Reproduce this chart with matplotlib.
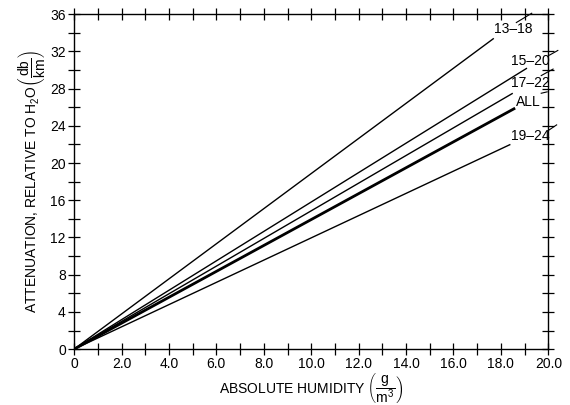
import matplotlib
matplotlib.use('Agg')
from matplotlib import pyplot as plt

plt.rcParams['font.family'] = ['Liberation Sans', 'DejaVu Sans']
plt.rcParams['mathtext.fontset'] = 'custom'
plt.rcParams['mathtext.rm'] = 'Liberation Sans'
plt.rcParams['mathtext.it'] = 'Liberation Sans'

# data: each curve is a straight line from the origin to its end point
groups = ['13–18', '15–20', '17–22', 'ALL', '19–24']
end_humidity = [17.7, 19.1, 18.5, 18.6, 18.4]
end_atten = [33.4, 30.2, 27.5, 25.9, 22.0]
line_widths = [1.0, 1.0, 1.0, 2.0, 1.0]

# label text position and leader line (data coords)
label_xy = [(18.5, 34.4), (19.25, 31.0), (19.25, 28.6), (19.15, 26.6), (19.25, 22.9)]
leader_from = [(18.65, 35.1), (20.05, 31.6), (19.7, 29.4), (19.7, 27.5), (20.0, 23.5)]
leader_to = [(19.3, 36.1), (20.4, 32.1), (20.2, 30.1), (19.95, 27.65), (20.35, 24.1)]

fig = plt.figure(figsize=(5.7, 4.05), dpi=100)
ax = fig.add_axes([0.130, 0.138, 0.832, 0.827])

for name, xe, ye, lw in zip(groups, end_humidity, end_atten, line_widths):
    ax.plot([0, xe], [0, ye], color='black', linewidth=lw, solid_capstyle='butt')

for name, (tx, ty), p0, p1 in zip(groups, label_xy, leader_from, leader_to):
    ax.text(tx, ty, name, fontsize=10, ha='center', va='center')
    ax.plot([p0[0], p1[0]], [p0[1], p1[1]], color='black', linewidth=0.8, clip_on=False)

ax.set_xlim(0, 20)
ax.set_ylim(0, 36)
ax.set_xticks([i * 2.0 for i in range(11)])
ax.set_xticklabels(['0'] + ['%.1f' % (i * 2.0) for i in range(1, 11)])
ax.set_xticks(range(0, 21), minor=True)
ax.set_yticks(range(0, 37, 4))
ax.set_yticks(range(0, 37, 2), minor=True)
ax.tick_params(which='both', direction='inout', top=True, right=True, labelsize=10,
               width=0.9, length=8, pad=2)
for s in ax.spines.values():
    s.set_linewidth(1.0)

ax.set_xlabel(r'ABSOLUTE HUMIDITY $\left(\dfrac{\mathrm{g}}{\mathrm{m^3}}\right)$', fontsize=10, labelpad=0)
ax.set_ylabel(r'ATTENUATION, RELATIVE TO H$_2$O$\left(\dfrac{\mathrm{db}}{\mathrm{km}}\right)$', fontsize=10, labelpad=2)

plt.savefig('out.png', dpi=100)
